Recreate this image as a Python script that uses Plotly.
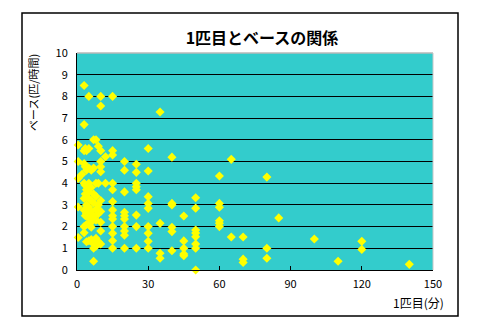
import plotly.graph_objects as go

# Time to first catch (minutes) vs. catch rate (fish per hour)
first_catch_min = (
    [0.5] * 5 + [2] + [3] * 9 + [3.5] * 5 + [4] * 7 + [5] * 9 + [6] * 7 + [7] * 8
    + [8] * 7 + [9] * 5 + [10] * 11 + [12] * 2 + [15] * 13 + [20] * 10 + [25] * 8
    + [30] * 9 + [35] * 4 + [40] * 6 + [45] * 5 + [50] * 8 + [60] * 6 + [65] * 2
    + [70] * 3 + [80] * 3 + [85] + [100] + [110] + [120] * 2 + [140]
)
pace_per_hour = [
    5.76, 5.0, 4.22, 2.9, 1.5,                              # 0.5
    4.4,                                                    # 2
    8.5, 6.7, 5.5, 4.9, 4.0, 3.3, 2.76, 2.0, 1.72,          # 3
    5.6, 4.76, 3.9, 3.5, 2.5,                               # 3.5
    5.5, 4.6, 3.7, 3.0, 2.6, 2.1, 1.3,                      # 4
    8.0, 5.6, 4.7, 4.0, 3.6, 3.3, 2.9, 2.4, 1.35,           # 5
    4.6, 3.8, 3.2, 2.7, 2.2, 1.97, 1.4,                     # 6
    6.0, 4.7, 3.5, 3.1, 2.5, 1.2, 1.0, 0.4,                 # 7
    6.0, 4.0, 3.4, 2.8, 2.3, 1.46, 1.1,                     # 8
    5.7, 4.0, 3.0, 2.6, 1.3,                                # 9
    8.0, 7.56, 5.5, 5.0, 4.76, 4.53, 3.2, 2.7, 2.2, 1.8, 1.2,  # 10
    5.22, 4.0,                                              # 12
    8.0, 5.5, 5.3, 4.0, 3.7, 3.15, 2.76, 2.5, 2.35, 2.0, 1.69, 1.35, 1.0,  # 15
    5.0, 4.6, 3.6, 2.66, 2.5, 2.35, 2.0, 1.8, 1.6, 1.0,     # 20
    4.87, 4.5, 4.0, 3.84, 3.7, 2.53, 2.0, 1.0,              # 25
    5.6, 4.56, 3.38, 3.07, 2.84, 2.0, 1.69, 1.32, 1.0,      # 30
    7.28, 2.15, 0.77, 0.54,                                 # 35
    5.2, 3.07, 3.0, 1.97, 1.77, 0.89,                       # 40
    2.49, 1.34, 1.0, 0.74, 0.66,                            # 45
    3.33, 2.85, 1.84, 1.7, 1.53, 1.2, 1.0, 0.0,             # 50
    4.33, 3.07, 2.89, 2.27, 2.15, 2.0,                      # 60
    5.1, 1.52,                                              # 65
    1.52, 0.5, 0.35,                                        # 70
    4.28, 1.0, 0.54,                                        # 80
    2.4,                                                    # 85
    1.43,                                                   # 100
    0.4,                                                    # 110
    1.32, 0.95,                                             # 120
    0.26,                                                   # 140
]

x_ticks = [0, 30, 60, 90, 120, 150]
y_ticks = list(range(0, 11))

title_text = "1匹目とベースの関係"
x_title = "1匹目(分)"
y_title = "ベース(匹/時間)"

FONT = "Noto Sans CJK JP"

fig = go.Figure(
    go.Scatter(
        x=first_catch_min,
        y=pace_per_hour,
        mode="markers",
        marker=dict(symbol="diamond", size=7, color="#FFFF00", line=dict(width=0)),
        cliponaxis=False,
        hoverinfo="x+y",
    )
)

fig.update_layout(
    width=480,
    height=336,
    margin=dict(l=77, r=47, t=53, b=66),
    paper_bgcolor="white",
    plot_bgcolor="#33CCCC",
    showlegend=False,
    font=dict(family=FONT, size=11, color="black"),
    title=dict(
        text=title_text,
        x=262 / 480,
        xanchor="center",
        y=1 - 38 / 336,
        yanchor="middle",
        font=dict(family=FONT, size=16, color="black", weight="bold"),
    ),
    xaxis=dict(
        range=[0, 150],
        tickvals=x_ticks,
        ticks="inside",
        ticklen=4,
        tickcolor="black",
        showgrid=False,
        zeroline=False,
        showline=True,
        linecolor="black",
        linewidth=1,
        ticklabelstandoff=4,
        tickfont=dict(family=FONT, size=11),
        fixedrange=True,
    ),
    yaxis=dict(
        range=[0, 10],
        tickvals=y_ticks,
        ticks="",
        showgrid=True,
        gridcolor="black",
        gridwidth=1,
        zeroline=False,
        showline=True,
        linecolor="black",
        linewidth=1,
        ticklabelstandoff=6,
        tickfont=dict(family=FONT, size=11),
        fixedrange=True,
    ),
    shapes=[
        # chart frame
        dict(type="rect", xref="paper", yref="paper",
             x0=(22 - 77) / 356, x1=(458 - 77) / 356,
             y0=(270 - 316) / 217, y1=(270 - 13) / 217,
             line=dict(color="black", width=1.5), fillcolor="rgba(0,0,0,0)",
             layer="below"),
        # light plot-area border on top and right
        dict(type="line", xref="paper", yref="paper", x0=0, x1=1, y0=1, y1=1,
             line=dict(color="#B8B8B8", width=1.5), layer="above"),
        dict(type="line", xref="paper", yref="paper", x0=1, x1=1, y0=0, y1=1,
             line=dict(color="#C8C8C8", width=1), layer="above"),
    ],
    annotations=[
        dict(text=y_title, xref="paper", yref="paper",
             x=(33 - 77) / 356, y=(270 - 93) / 217,
             xanchor="center", yanchor="middle", textangle=-90,
             showarrow=False, font=dict(family=FONT, size=11)),
        dict(text=x_title, xref="paper", yref="paper",
             x=(446 - 77) / 356, y=(270 - 302) / 217,
             xanchor="right", yanchor="middle",
             showarrow=False, font=dict(family=FONT, size=12)),
    ],
)

fig.write_html("out.html")
